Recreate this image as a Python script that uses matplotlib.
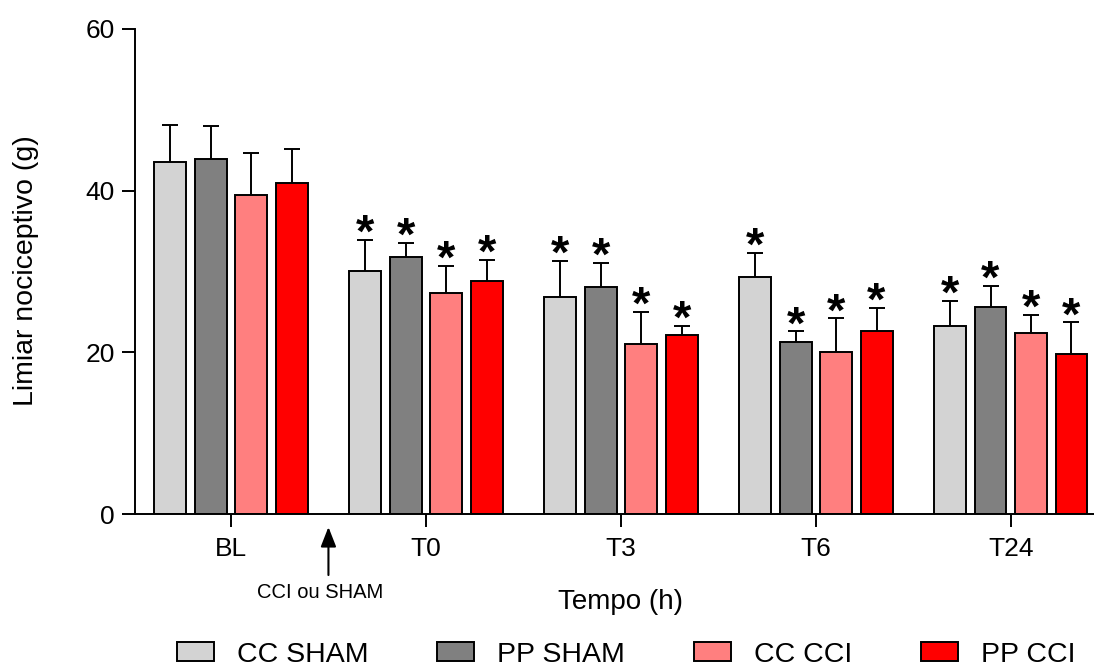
import matplotlib
matplotlib.use('Agg')
import matplotlib.pyplot as plt
import numpy as np

plt.rcParams['font.family'] = ['Liberation Sans', 'DejaVu Sans']

# dados
tempos = ['BL', 'T0', 'T3', 'T6', 'T24']
grupos = ['CC SHAM', 'PP SHAM', 'CC CCI', 'PP CCI']
cores = ['#d3d3d3', '#808080', '#ff7f7f', '#ff0000']

media = {
    'CC SHAM': [43.6, 30.1, 26.9, 29.3, 23.3],
    'PP SHAM': [43.9, 31.8, 28.1, 21.3, 25.6],
    'CC CCI':  [39.5, 27.4, 21.0, 20.1, 22.4],
    'PP CCI':  [40.9, 28.8, 22.1, 22.7, 19.8],
}
# topo da barra de erro (media + erro)
topo_erro = {
    'CC SHAM': [48.1, 33.9, 31.3, 32.3, 26.4],
    'PP SHAM': [48.0, 33.5, 31.1, 22.6, 28.2],
    'CC CCI':  [44.6, 30.7, 25.0, 24.2, 24.6],
    'PP CCI':  [45.2, 31.4, 23.3, 25.5, 23.7],
}
# asterisco (diferente do BL)
signif = {
    'CC SHAM': [0, 1, 1, 1, 1],
    'PP SHAM': [0, 1, 1, 1, 1],
    'CC CCI':  [0, 1, 1, 1, 1],
    'PP CCI':  [0, 1, 1, 1, 1],
}

fig = plt.figure(figsize=(10.94, 6.66), dpi=100)
ax = fig.add_axes([0.1234, 0.2282, 0.8766, 0.7283])

x = np.arange(len(tempos))
passo = 0.2077
larg = 0.164
lw = 1.4
barras = []
for i, g in enumerate(grupos):
    xi = x + (i - 1.5) * passo
    m = np.array(media[g])
    e = np.array(topo_erro[g]) - m
    b = ax.bar(xi, m, width=larg, color=cores[i], edgecolor='black',
               linewidth=lw, zorder=2, label=g)
    barras.append(b)
    ax.errorbar(xi, m, yerr=e, fmt='none', ecolor='black', elinewidth=lw,
                capsize=6, capthick=lw, zorder=1)
    for j in range(len(tempos)):
        if signif[g][j]:
            ax.annotate('*', xy=(xi[j], topo_erro[g][j]), xytext=(0, -5),
                        textcoords='offset points', ha='center', va='baseline',
                        fontsize=34, fontweight='bold')

ax.set_ylim(0, 60)
ax.set_yticks([0, 20, 40, 60])
ax.set_xlim(-0.4923, 4.427)
ax.set_xticks(x)
ax.set_xticklabels(tempos)
for s in ['top', 'right']:
    ax.spines[s].set_visible(False)
for s in ['left', 'bottom']:
    ax.spines[s].set_linewidth(lw)
ax.tick_params(axis='both', length=9.5, width=lw, labelsize=19)
ax.tick_params(axis='y', pad=5)
ax.tick_params(axis='x', pad=7)

# seta da cirurgia
ax.annotate('', xy=(0.5, -0.0268), xytext=(0.5, -0.1258),
            xycoords=('data', 'axes fraction'), textcoords=('data', 'axes fraction'),
            arrowprops=dict(arrowstyle='-|>,head_length=1.2,head_width=0.47',
                            color='black', lw=1.5, shrinkA=0, shrinkB=0),
            annotation_clip=False)
ax.text(0.456, -0.161, 'CCI ou SHAM', transform=ax.get_xaxis_transform(),
        ha='center', va='center', fontsize=14.5)

fig.text(621 / 1094, 1 - 609 / 666, 'Tempo (h)', ha='center', va='baseline', fontsize=20)
fig.text(26 / 1094, 1 - 270.5 / 666, 'Limiar nociceptivo (g)', rotation=90,
         ha='center', va='center', fontsize=20.5)

fig.legend(barras, grupos, loc='center left', bbox_to_anchor=(177 / 1094, 1 - 654.5 / 666),
           ncol=4, frameon=False, fontsize=20.5, handlelength=1.3, handleheight=0.6,
           handletextpad=0.8, columnspacing=2.42, borderpad=0, borderaxespad=0)

fig.savefig('out.png', dpi=100)
